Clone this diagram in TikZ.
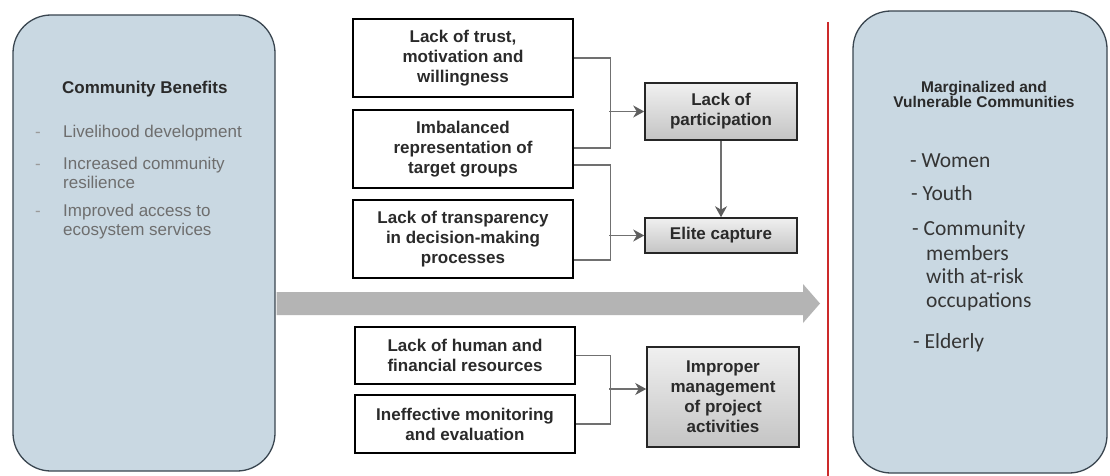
\documentclass[tikz,border=0pt]{standalone}
\usepackage{fontspec}
\setmainfont{Liberation Sans}
\newfontfamily\carlito{Carlito}
\usetikzlibrary{arrows.meta,calc}
\definecolor{panelfill}{HTML}{C9D8E2}
\definecolor{panelline}{HTML}{3A4650}
\definecolor{conncol}{HTML}{707070}
\definecolor{tipgray}{HTML}{5E5E5E}
\definecolor{bigarrowcol}{HTML}{B4B4B4}
\definecolor{redrulecol}{HTML}{CC2A2A}
\definecolor{softtext}{HTML}{6E6E6E}
\definecolor{bulletcol}{HTML}{9A9A9A}
\definecolor{darktext}{HTML}{2A2A2A}
\definecolor{gtop}{HTML}{F0F0F0}
\definecolor{gbot}{HTML}{C4C4C4}
\begin{document}
\begin{tikzpicture}[x=1pt,y=-1pt,
  panel/.style={draw=panelline,line width=1.3pt,fill=panelfill,rounded corners=38pt,inner sep=0pt},
  causebox/.style={draw=black,line width=2.6pt,fill=white,minimum width=220pt,inner sep=0pt,align=center,text=darktext,font=\bfseries\fontsize{17}{20}\selectfont},
  effectbox/.style={draw=black!85,line width=1.6pt,top color=gtop,bottom color=gbot,minimum width=152pt,inner sep=0pt,align=center,text=darktext,font=\bfseries\fontsize{17}{20}\selectfont},
  conn/.style={draw=conncol,line width=1.4pt},
  connarrow/.style={conn,-{Stealth[length=11pt,width=12pt,inset=3.5pt,color=tipgray]}},
  leftitem/.style={anchor=base west,inner sep=0pt,text=softtext,font=\fontsize{17}{19}\selectfont},
  leftbullet/.style={anchor=base,inner sep=0pt,text=bulletcol,font=\fontsize{17}{19}\selectfont},
  headtext/.style={inner sep=0pt,text=darktext,font=\bfseries\fontsize{17}{20}\selectfont},
  righthead/.style={anchor=base,inner sep=0pt,text=darktext,font=\bfseries\fontsize{15.5}{15}\selectfont},
  rightitem/.style={anchor=base west,inner sep=0pt,text=darktext!95,font=\carlito\fontsize{21.5}{23}\selectfont},
  redrule/.style={draw=redrulecol,line width=2.8pt},
  bigarrow/.style={fill=bigarrowcol}]
\fill[white] (0,0) rectangle (1110,476);
\useasboundingbox (0,0) rectangle (1110,476);

% side panels
\node[panel,minimum width=262pt,minimum height=456pt] (lb) at (144,243) {};
\node[panel,minimum width=254pt,minimum height=462pt] (rb) at (980,242) {};

% left panel text
\node[headtext,anchor=base west] (lbh) at (62,94) {Community Benefits};
\node[leftbullet] (lb1) at (38,137) {-};
\node[leftitem] (li1) at (63,137) {Livelihood development};
\node[leftbullet] (lb2) at (38,169) {-};
\node[leftitem] (li2a) at (63,169) {Increased community};
\node[leftitem] (li2b) at (63,188) {resilience};
\node[leftbullet] (lb3) at (38,216) {-};
\node[leftitem] (li3a) at (63,216) {Improved access to};
\node[leftitem] (li3b) at (63,235) {ecosystem services};

% right panel text
\node[righthead] (rh1) at (984,93) {Marginalized and};
\node[righthead] (rh2) at (984,107) {Vulnerable Communities};
\node[rightitem] (r1) at (910,167) {- Women};
\node[rightitem] (r2) at (911,200) {- Youth};
\node[rightitem] (r3a) at (912,235) {- Community};
\node[rightitem] (r3b) at (926,260) {members};
\node[rightitem] (r3c) at (926,283) {with at-risk};
\node[rightitem] (r3d) at (926,307) {occupations};
\node[rightitem] (r4) at (913,348) {- Elderly};

% big arrow
\coordinate (bay) at (0,303.5);
\coordinate (tip) at (820,303.5);
\fill[bigarrow] ($(lb.east |- bay)+(1,-11.5)$) -- (803,292) -- (803,284) -- (tip) -- (803,323) -- (803,315) -- ($(lb.east |- bay)+(1,11.5)$) -- cycle;

% red rule
\coordinate (rtop) at (828,22);
\coordinate (rbot) at (828,476);
\draw[redrule] (rtop) -- (rbot);

% cause boxes
\node[causebox,minimum height=78pt] (c1) at (463,58) {Lack of trust,\\motivation and\\willingness};
\node[causebox,minimum height=78pt] (c2) at (463,149) {Imbalanced\\representation of\\target groups};
\node[causebox,minimum height=78pt] (c3) at (463,239) {Lack of transparency\\in decision-making\\processes};
\node[causebox,minimum height=57pt] (c4) at (465,355.5) {Lack of human and\\financial resources};
\node[causebox,minimum height=58pt] (c5) at (465,424) {Ineffective monitoring\\and evaluation};

% effect boxes
\node[effectbox,minimum height=57pt] (e1) at (721,111.5) {Lack of\\participation};
\node[effectbox,minimum height=35pt] (e2) at (721,235.5) {Elite capture};
\node[effectbox,minimum height=100pt] (e3) at (723,397) {Improper\\management\\of project\\activities};

% brackets
\draw[conn] (c1.east) -- ++(36,0) |- ($(c2.east)+(0,-1)$);
\draw[conn] ($(c2.east)+(0,16)$) -- ++(36,0) |- ($(c3.east)+(0,21)$);
\draw[conn] (c4.east) -- ++(34,0) |- (c5.east);

% arrows
\coordinate (j1) at (609,111.5);
\coordinate (j2) at (609,235.5);
\coordinate (j3) at (609,389);
\draw[connarrow] (j1) -- (e1.west);
\draw[connarrow] (j2) -- (e2.west);
\draw[connarrow] (j3) -- (j3 -| e3.west);
\draw[connarrow] (e1.south) -- (e2.north);
\end{tikzpicture}
\end{document}
